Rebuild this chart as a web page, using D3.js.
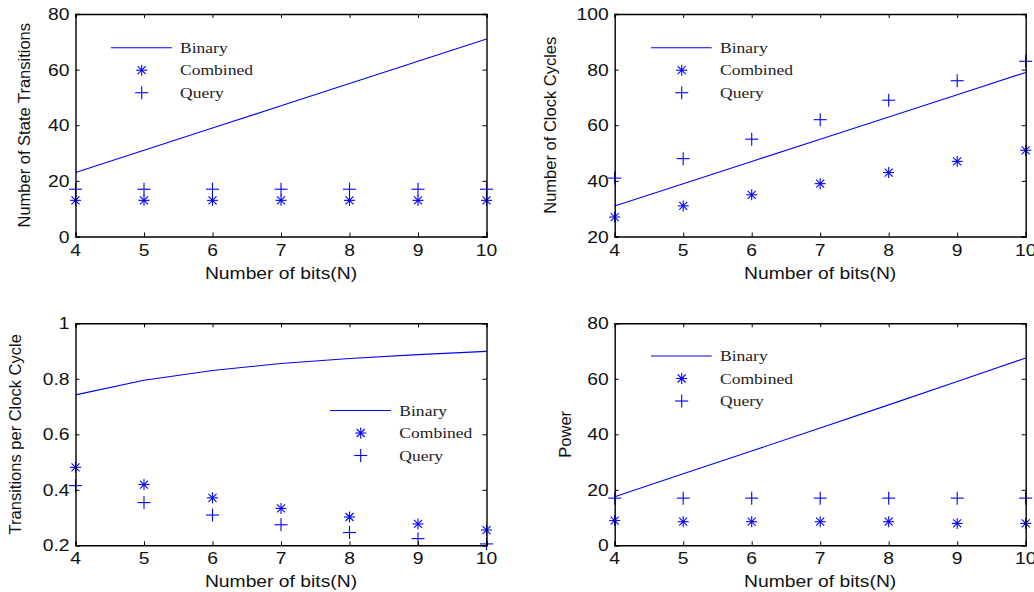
<!DOCTYPE html>
<html>
<head>
<meta charset="utf-8">
<script src="https://cdn.jsdelivr.net/npm/d3@7/dist/d3.min.js"></script>
<style>
html,body{margin:0;padding:0;background:#fff;}
svg{display:block;}
</style>
</head>
<body>
<svg id="chart" width="1034" height="592"></svg>
<script>
// ---- data ----
const bits = [4, 5, 6, 7, 8, 9, 10];
const seriesNames = ["Binary", "Combined", "Query"];

const transBinary   = [23, 31, 39, 47, 55, 63, 71];
const transCombined = [13, 13, 13, 13, 13, 13, 13];
const transQuery    = [17, 17, 17, 17, 17, 17, 17];

const clockBinary   = [31, 39, 47, 55, 63, 71, 79];
const clockCombined = [27, 31, 35, 39, 43, 47, 51];
const clockQuery    = [41, 48, 55, 62, 69, 76, 83];

const tpcBinary   = [0.742, 0.795, 0.830, 0.855, 0.873, 0.887, 0.899];
const tpcCombined = [0.481, 0.419, 0.371, 0.333, 0.302, 0.277, 0.255];
const tpcQuery    = [0.415, 0.354, 0.309, 0.274, 0.246, 0.224, 0.205];

const powerBinary   = [17.5, 25.8, 34.0, 42.3, 50.6, 59.0, 67.5];
const powerCombined = [8.9, 8.5, 8.5, 8.5, 8.5, 7.9, 7.9];
const powerQuery    = [17, 17, 17, 17, 17, 17, 17];

const xTicks = [4, 5, 6, 7, 8, 9, 10];
const yTicks1 = [0, 20, 40, 60, 80];
const yTicks2 = [20, 40, 60, 80, 100];
const yTicks3 = [0.2, 0.4, 0.6, 0.8, 1];
const yTicks4 = [0, 20, 40, 60, 80];

const xLabel = "Number of bits(N)";

// ---- layout ----
const svg = d3.select("#chart");
const BLUE = "#0000ff";
const SX = 1.17;           // horizontal text stretch as in reference
const FONT = "'Liberation Sans', Arial, sans-serif";
const SERIF = "'Liberation Serif', 'Times New Roman', serif";

const panels = [
  {x0: 75.5, x1: 486.5, y0: 14, y1: 236.5, dom: [0, 80], ticks: yTicks1, fmt: d => d,
   title: "Number of State Transitions", titleX: 30,
   data: [transBinary, transCombined, transQuery],
   leg: {lx0: 111, lx1: 172, mx: 141.7, tx: 180, y: 47.7}},
  {x0: 614.7, x1: 1025.7, y0: 14, y1: 236.5, dom: [20, 100], ticks: yTicks2, fmt: d => d,
   title: "Number of Clock Cycles", titleX: 556,
   data: [clockBinary, clockCombined, clockQuery],
   leg: {lx0: 651, lx1: 711.7, mx: 681.7, tx: 720, y: 47.7}},
  {x0: 75.5, x1: 486.5, y0: 323.3, y1: 545.3, dom: [0.2, 1], ticks: yTicks3, fmt: d => d === 1 ? "1" : d3.format(".1f")(d),
   title: "Transitions per Clock Cycle", titleX: 21,
   data: [tpcBinary, tpcCombined, tpcQuery],
   leg: {lx0: 330, lx1: 391, mx: 360.7, tx: 399.3, y: 410.5}},
  {x0: 614.7, x1: 1025.7, y0: 323.3, y1: 545.3, dom: [0, 80], ticks: yTicks4, fmt: d => d,
   title: "Power", titleX: 571,
   data: [powerBinary, powerCombined, powerQuery],
   leg: {lx0: 651, lx1: 711.7, mx: 681.7, tx: 720, y: 356}}
];

function drawMarker(g, type, cx, cy) {
  const s = g.append("g").attr("transform", `translate(${cx},${cy})`)
    .attr("stroke", BLUE).attr("stroke-width", 1.1).attr("fill", "none");
  if (type === "plus") {
    const r = 6.5;
    s.append("line").attr("x1", -r).attr("x2", r).attr("y1", 0).attr("y2", 0);
    s.append("line").attr("x1", 0).attr("x2", 0).attr("y1", -r).attr("y2", r);
  } else {
    const r = 5.5, d = 4;
    s.append("line").attr("x1", -r).attr("x2", r).attr("y1", 0).attr("y2", 0);
    s.append("line").attr("x1", 0).attr("x2", 0).attr("y1", -r).attr("y2", r);
    s.append("line").attr("x1", -d).attr("x2", d).attr("y1", -d).attr("y2", d);
    s.append("line").attr("x1", -d).attr("x2", d).attr("y1", d).attr("y2", -d);
  }
}

panels.forEach(p => {
  const x = d3.scaleLinear().domain([4, 10]).range([p.x0, p.x1]);
  const y = d3.scaleLinear().domain(p.dom).range([p.y1, p.y0]);
  const g = svg.append("g");

  // data: Binary line
  g.append("path").datum(bits.map((b, i) => [b, p.data[0][i]]))
    .attr("fill", "none").attr("stroke", BLUE).attr("stroke-width", 1.1)
    .attr("d", d3.line().x(d => x(d[0])).y(d => y(d[1])));
  // markers
  bits.forEach((b, i) => drawMarker(g, "star", x(b), y(p.data[1][i])));
  bits.forEach((b, i) => drawMarker(g, "plus", x(b), y(p.data[2][i])));

  // frame axes with inward ticks
  const tickLen = 4;
  const axB = d3.axisBottom(x).tickValues(xTicks).tickSize(-tickLen).tickFormat("");
  const axT = d3.axisTop(x).tickValues(xTicks).tickSize(-tickLen).tickFormat("");
  const axL = d3.axisLeft(y).tickValues(p.ticks).tickSize(-tickLen).tickFormat("");
  const axR = d3.axisRight(y).tickValues(p.ticks).tickSize(-tickLen).tickFormat("");
  [[axB, `translate(0,${p.y1})`], [axT, `translate(0,${p.y0})`],
   [axL, `translate(${p.x0},0)`], [axR, `translate(${p.x1},0)`]].forEach(([ax, tr]) => {
    const a = g.append("g").attr("transform", tr).call(ax);
    a.selectAll("path.domain").attr("stroke", "#000").attr("stroke-width", 1.4);
    a.selectAll("line").attr("stroke", "#000").attr("stroke-width", 1);
  });

  // tick labels
  xTicks.forEach(t => {
    g.append("text")
      .attr("transform", `translate(${x(t)},${p.y1 + 19}) scale(${SX},1)`)
      .attr("text-anchor", "middle").attr("font-family", FONT).attr("font-size", 16.5)
      .attr("fill", "#111").text(t);
  });
  p.ticks.forEach(t => {
    g.append("text")
      .attr("transform", `translate(${p.x0 - 6},${y(t) + 6}) scale(${SX},1)`)
      .attr("text-anchor", "end").attr("font-family", FONT).attr("font-size", 16.5)
      .attr("fill", "#111").text(p.fmt(t));
  });

  // axis titles
  g.append("text")
    .attr("transform", `translate(${(p.x0 + p.x1) / 2},${p.y1 + 42}) scale(${SX},1)`)
    .attr("text-anchor", "middle").attr("font-family", FONT).attr("font-size", 16.5)
    .attr("fill", "#111").text(xLabel);
  g.append("text")
    .attr("transform", `translate(${p.titleX},${(p.y0 + p.y1) / 2}) rotate(-90)`)
    .attr("text-anchor", "middle").attr("font-family", FONT).attr("font-size", 16.5)
    .attr("fill", "#111").text(p.title);

  // legend
  const L = p.leg, dy = 22.5;
  g.append("line").attr("x1", L.lx0).attr("x2", L.lx1).attr("y1", L.y).attr("y2", L.y)
    .attr("stroke", BLUE).attr("stroke-width", 1.1);
  drawMarker(g, "star", L.mx, L.y + dy);
  drawMarker(g, "plus", L.mx, L.y + 2 * dy);
  seriesNames.forEach((n, i) => {
    g.append("text")
      .attr("transform", `translate(${L.tx},${L.y + i * dy + 5}) scale(${SX},1)`)
      .attr("font-family", SERIF).attr("font-size", 15)
      .attr("fill", "#222").text(n);
  });
});
</script>
</body>
</html>
